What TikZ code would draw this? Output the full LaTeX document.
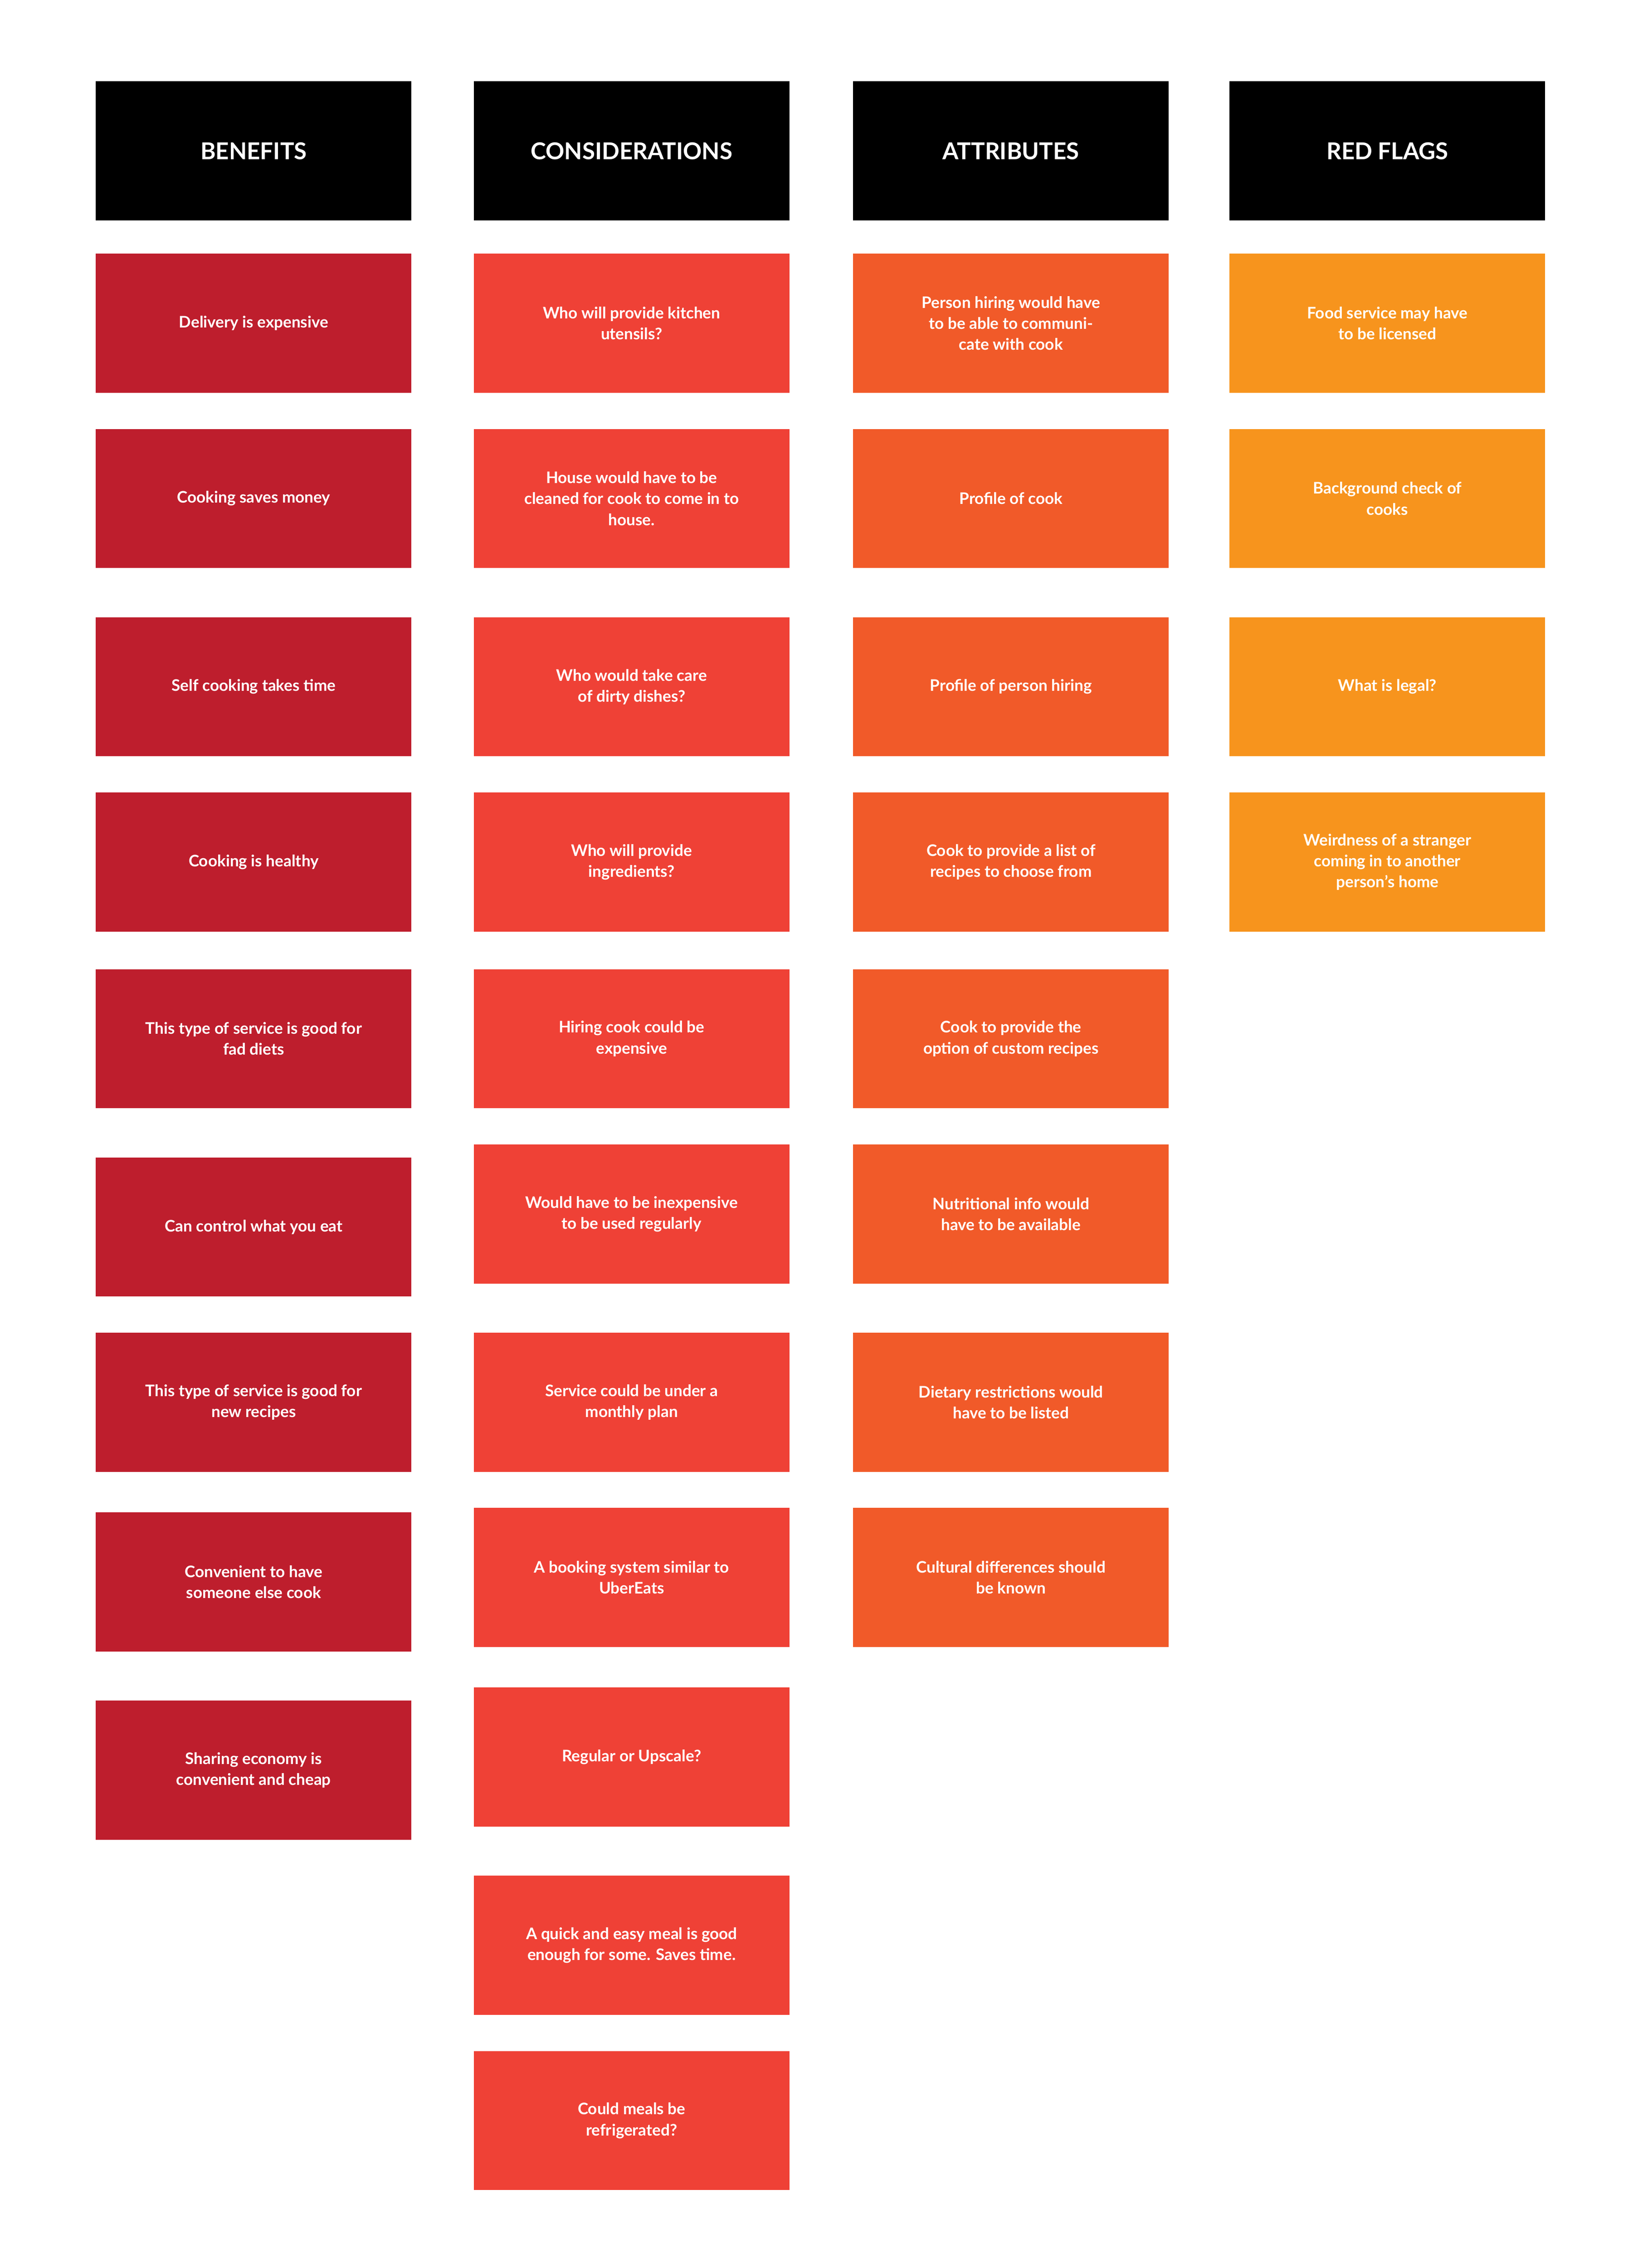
\documentclass[tikz,border=0pt]{standalone}
\usepackage{fontspec}
\setmainfont{Lato}
\definecolor{cben}{HTML}{BE1E2D}
\definecolor{ccon}{HTML}{EF4136}
\definecolor{catt}{HTML}{F15A29}
\definecolor{cred}{HTML}{F7941D}
\tikzset{box/.style={anchor=north west,minimum width=218pt,minimum height=96pt,inner sep=0pt,text=white,align=center,font=\fontsize{11}{14.5}\selectfont\bfseries},
hdr/.style={box,fill=black,font=\fontsize{16}{19}\selectfont\bfseries}}
\newcommand{\bx}[5]{\node[box,fill=#4] (#1) at (#2pt,-#3pt) {#5};}
\begin{document}
\begin{tikzpicture}[x=1pt,y=1pt]
\useasboundingbox[fill=white] (0,0) rectangle (1131,-1566);
\node[hdr] (h1) at (66,-56) {BENEFITS};
\node[hdr] (h2) at (327,-56) {CONSIDERATIONS};
\node[hdr] (h3) at (589,-56) {ATTRIBUTES};
\node[hdr] (h4) at (849,-56) {RED FLAGS};
\bx{b1}{66}{175}{cben}{Delivery is expensive}
\bx{b2}{66}{296}{cben}{Cooking saves money}
\bx{b3}{66}{426}{cben}{Self cooking takes time}
\bx{b4}{66}{547}{cben}{Cooking is healthy}
\bx{b5}{66}{669}{cben}{This type of service is good for\\fad diets}
\bx{b6}{66}{799}{cben}{Can control what you eat}
\bx{b7}{66}{920}{cben}{This type of service is good for\\new recipes}
\bx{b8}{66}{1044}{cben}{Convenient to have\\someone else cook}
\bx{b9}{66}{1174}{cben}{Sharing economy is\\convenient and cheap}
\bx{c1}{327}{175}{ccon}{Who will provide kitchen\\utensils?}
\bx{c2}{327}{296}{ccon}{House would have to be\\cleaned for cook to come in to\\house.}
\bx{c3}{327}{426}{ccon}{Who would take care\\of dirty dishes?}
\bx{c4}{327}{547}{ccon}{Who will provide\\ingredients?}
\bx{c5}{327}{669}{ccon}{Hiring cook could be\\expensive}
\bx{c6}{327}{790}{ccon}{Would have to be inexpensive\\to be used regularly}
\bx{c7}{327}{920}{ccon}{Service could be under a\\monthly plan}
\bx{c8}{327}{1041}{ccon}{A booking system similar to\\UberEats}
\bx{c9}{327}{1165}{ccon}{Regular or Upscale?}
\bx{c10}{327}{1295}{ccon}{A quick and easy meal is good\\enough for some. Saves time.}
\bx{c11}{327}{1416}{ccon}{Could meals be\\refrigerated?}
\bx{a1}{589}{175}{catt}{Person hiring would have\\to be able to communi-\\cate with cook}
\bx{a2}{589}{296}{catt}{Profile of cook}
\bx{a3}{589}{426}{catt}{Profile of person hiring}
\bx{a4}{589}{547}{catt}{Cook to provide a list of\\recipes to choose from}
\bx{a5}{589}{669}{catt}{Cook to provide the\\option of custom recipes}
\bx{a6}{589}{790}{catt}{Nutritional info would\\have to be available}
\bx{a7}{589}{920}{catt}{Dietary restrictions would\\have to be listed}
\bx{a8}{589}{1041}{catt}{Cultural differences should\\be known}
\bx{r1}{849}{175}{cred}{Food service may have\\to be licensed}
\bx{r2}{849}{296}{cred}{Background check of\\cooks}
\bx{r3}{849}{426}{cred}{What is legal?}
\bx{r4}{849}{547}{cred}{Weirdness of a stranger\\coming in to another\\person’s home}
\end{tikzpicture}
\end{document}
